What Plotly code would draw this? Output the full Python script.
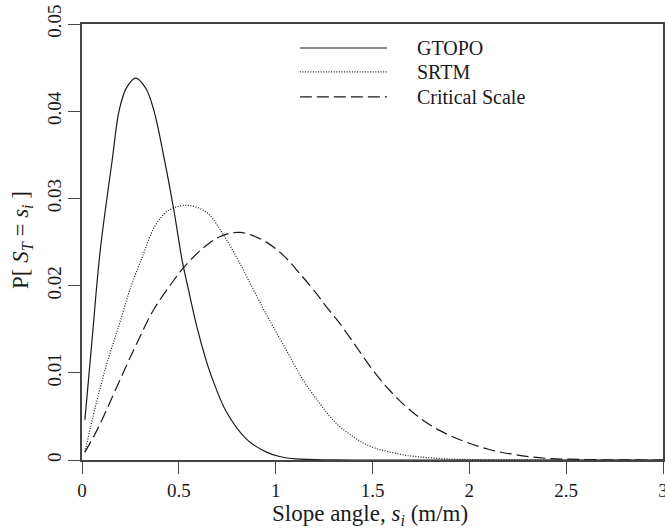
import plotly.graph_objects as go

# ---- data ----
gtopo_s = [0.015, 0.052, 0.094, 0.156, 0.192, 0.230, 0.278, 0.330, 0.371, 0.426, 0.474,
           0.517, 0.550, 0.593, 0.636, 0.670, 0.746, 0.849, 0.952, 1.020, 1.107, 1.300,
           1.500, 2.000, 2.500, 3.000]
gtopo_p = [0.0046, 0.0138, 0.0240, 0.0344, 0.0401, 0.0427, 0.0438, 0.0426, 0.0401, 0.0344,
           0.0287, 0.0229, 0.0195, 0.0153, 0.0118, 0.0095, 0.0055, 0.0024, 0.0009, 0.0004,
           0.00012, 0.00002, 0.0, 0.0, 0.0, 0.0]

srtm_s = [0.015, 0.069, 0.129, 0.189, 0.250, 0.315, 0.376, 0.445, 0.543, 0.643,
          0.728, 0.814, 0.883, 0.935, 0.969, 1.055, 1.141, 1.227, 1.313, 1.399, 1.485,
          1.656, 1.828, 2.000, 2.500, 3.000]
srtm_p = [0.0009, 0.0061, 0.0111, 0.0153, 0.0197, 0.0235, 0.0268, 0.0286, 0.0292, 0.0284,
          0.0259, 0.0226, 0.0196, 0.0174, 0.0160, 0.0126, 0.0092, 0.0065, 0.0042,
          0.0027, 0.0016, 0.0006, 0.0002, 0.00005, 0.0, 0.0]

crit_s = [0.015, 0.086, 0.180, 0.275, 0.369, 0.464, 0.522, 0.625, 0.711, 0.814, 0.935,
          1.038, 1.124, 1.210, 1.261, 1.330, 1.416, 1.502, 1.588, 1.674, 1.759, 1.845,
          1.966, 2.103, 2.241, 2.395, 2.600, 3.000]
crit_p = [0.0009, 0.0038, 0.0084, 0.0130, 0.0172, 0.0203, 0.0220, 0.0243, 0.0256, 0.0261,
          0.0252, 0.0235, 0.0214, 0.0191, 0.0176, 0.0157, 0.0130, 0.0103, 0.0080, 0.0061,
          0.0046, 0.0034, 0.0022, 0.0012, 0.0006, 0.0002, 0.00005, 0.0]

series_names = ["GTOPO", "SRTM", "Critical Scale"]
x_ticks = [0, 0.5, 1, 1.5, 2, 2.5, 3]
x_ticklabels = ["0", "0.5", "1", "1.5", "2", "2.5", "3"]
y_ticks = [0, 0.01, 0.02, 0.03, 0.04, 0.05]
y_ticklabels = ["0", "0.01", "0.02", "0.03", "0.04", "0.05"]
x_title = "Slope angle, <i>s</i><sub><i>i</i></sub> (m/m)"
y_title = "P[ <i>S</i><sub><i>T</i></sub> = <i>s</i><sub><i>i</i></sub> ]"

FONT = "Liberation Serif"
INK = "#1a1a1a"
dashes = ["solid", "1px,1.6px", "12px,5px"]

fig = go.Figure()
for name, xs, ys, d in zip(series_names, [gtopo_s, srtm_s, crit_s],
                           [gtopo_p, srtm_p, crit_p], dashes):
    fig.add_trace(go.Scatter(x=xs, y=ys, mode="lines", name=name,
                             line=dict(color=INK, width=1.2, dash=d,
                                       shape="spline", smoothing=1.0),
                             showlegend=False))

# legend drawn as shapes + text (long line samples like the original)
leg_y = [0.945, 0.890, 0.833]
for name, d, yy in zip(series_names, dashes, leg_y):
    fig.add_shape(type="line", xref="paper", yref="paper",
                  x0=0.375, x1=0.525, y0=yy, y1=yy,
                  line=dict(color=INK, width=1.2, dash=d))
    fig.add_annotation(xref="paper", yref="paper", x=0.574, y=yy, text=name,
                       showarrow=False, xanchor="left", yanchor="middle",
                       font=dict(family=FONT, size=20, color=INK))

# axis titles
fig.add_annotation(xref="paper", yref="paper", x=0.496, y=-0.125, text=x_title,
                   showarrow=False, xanchor="center", yanchor="middle",
                   font=dict(family=FONT, size=23, color=INK))
fig.add_annotation(xref="paper", yref="paper", x=-0.103, y=0.505, text=y_title,
                   showarrow=False, xanchor="center", yanchor="middle", textangle=-90,
                   font=dict(family=FONT, size=23, color=INK))

fig.update_layout(
    width=665, height=529,
    margin=dict(l=82, r=2, t=24, b=69),
    paper_bgcolor="white", plot_bgcolor="white",
    font=dict(family=FONT, size=19, color=INK),
    xaxis=dict(range=[0, 3], tickvals=x_ticks, ticktext=x_ticklabels,
               ticks="outside", ticklen=12, tickwidth=1.2, tickcolor="#444",
               ticklabeloverflow="allow",
               showline=True, linecolor="#444", linewidth=1.5, mirror=True,
               showgrid=False, zeroline=False, automargin=False),
    yaxis=dict(range=[0, 0.05], tickvals=y_ticks, ticktext=y_ticklabels,
               ticks="outside", ticklen=12, tickwidth=1.2, tickcolor="#444",
               tickangle=-90, ticklabeloverflow="allow",
               showline=True, linecolor="#444", linewidth=1.5, mirror=True,
               showgrid=False, zeroline=False, automargin=False),
)

fig.write_html("out.html", config={"displayModeBar": False},
               post_script="document.body.style.margin='0';document.body.style.overflow='hidden';")
